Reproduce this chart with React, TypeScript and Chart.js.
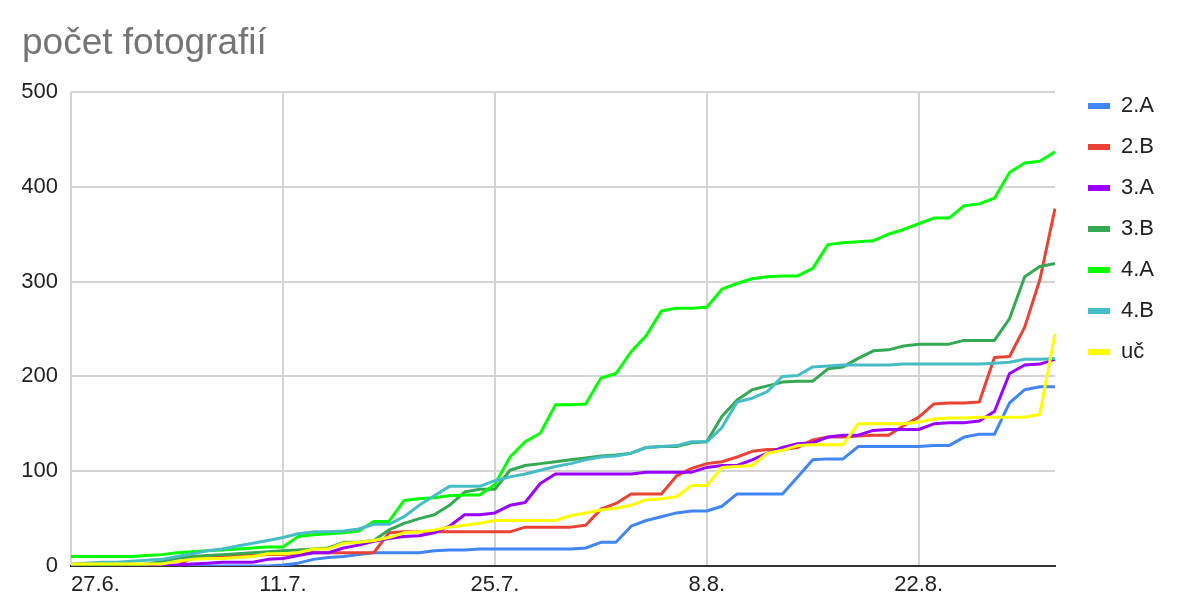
import React, { useEffect, useRef } from 'react';
import { Chart, registerables } from 'chart.js';

Chart.register(...registerables);

const categories = [
  '27.6.', '28.6.', '29.6.', '30.6.',
  '1.7.', '2.7.', '3.7.', '4.7.', '5.7.', '6.7.', '7.7.', '8.7.', '9.7.', '10.7.',
  '11.7.', '12.7.', '13.7.', '14.7.', '15.7.', '16.7.', '17.7.', '18.7.', '19.7.', '20.7.',
  '21.7.', '22.7.', '23.7.', '24.7.', '25.7.', '26.7.', '27.7.', '28.7.', '29.7.', '30.7.', '31.7.',
  '1.8.', '2.8.', '3.8.', '4.8.', '5.8.', '6.8.', '7.8.', '8.8.', '9.8.', '10.8.',
  '11.8.', '12.8.', '13.8.', '14.8.', '15.8.', '16.8.', '17.8.', '18.8.', '19.8.', '20.8.',
  '21.8.', '22.8.', '23.8.', '24.8.', '25.8.', '26.8.', '27.8.', '28.8.', '29.8.', '30.8.', '31.8.',
];

const tickLabels = ['27.6.', '11.7.', '25.7.', '8.8.', '22.8.'];

const series2A = [
  0, 0, 0, 0, 0, 0, 0, 0, 0, 0, 0, 0, 0, 0,
  1, 3, 7, 9, 10, 12, 14, 14, 14, 14, 16, 17, 17, 18, 18, 18, 18, 18, 18, 18,
  19, 25, 25, 42, 48, 52, 56, 58, 58, 63, 76, 76, 76, 76, 94, 112, 113, 113,
  126, 126, 126, 126, 126, 127, 127, 136, 139, 139, 172, 186, 189, 189,
];
const series2B = [
  0, 0, 0, 0, 0, 0, 0, 0,
  9, 10, 11, 11, 11, 12, 12, 13, 14, 14, 14, 14, 14, 35, 36, 36, 36, 36, 36, 36,
  36, 36, 41, 41, 41, 41, 43, 60, 66, 76, 76, 76, 95, 103, 108, 110, 115, 121,
  123, 123, 125, 133, 136, 136, 137, 138, 138, 148, 157, 171, 172, 172, 173,
  220, 221, 252, 302, 377,
];
const series3A = [
  0, 0, 0, 0, 0, 0, 0,
  1, 2, 3, 4, 4, 4, 7, 8, 11, 14, 14, 19, 22, 26, 29, 31, 32, 35, 42, 54, 54,
  56, 64, 67, 87, 97, 97, 97, 97, 97, 97, 99, 99, 99, 99, 104, 106, 106, 112,
  119, 125, 129, 130, 136, 138, 138, 143, 144, 144, 144, 150, 151, 151, 153,
  163, 203, 212, 213, 218,
];
const series3B = [
  0, 0, 0, 0, 0,
  2, 5, 8, 10, 11, 12, 13, 14, 15, 16, 17, 18, 19, 25, 25, 27, 38, 45, 50, 54,
  64, 78, 81, 81, 101, 106, 108, 110, 112, 114, 116, 117, 119, 125, 126, 126,
  130, 131, 158, 175, 186, 190, 194, 195, 195, 208, 210, 219, 227, 228, 232,
  234, 234, 234, 238, 238, 238, 261, 305, 316, 319,
];
const series4A = [
  10, 10, 10, 10, 10, 11, 12, 14, 15, 16, 17, 18, 19, 20, 20, 31, 33, 34, 35,
  37, 47, 47, 69, 71, 72, 74, 75, 75, 86, 115, 131, 140, 170, 170, 171, 198,
  203, 226, 243, 269, 272, 272, 273, 292, 298, 303, 305, 306, 306, 314, 339,
  341, 342, 343, 350, 355, 361, 367, 367, 380, 382, 388, 415, 425, 427, 437,
];
const series4B = [
  2, 3, 4, 4, 5, 6, 7, 10, 13, 16, 18, 21, 24, 27, 30, 34, 36, 36, 37, 39, 44,
  44, 52, 64, 74, 84, 84, 84, 90, 94, 97, 101, 105, 108, 112, 115, 116, 119,
  125, 126, 127, 131, 131, 146, 173, 177, 184, 200, 201, 210, 211, 212, 212,
  212, 212, 213, 213, 213, 213, 213, 213, 214, 215, 218, 218, 219,
];
const seriesUc = [
  2, 2, 2, 2, 2, 2, 2,
  5, 7, 8, 8, 9, 10, 13, 13, 14, 18, 18, 24, 25, 27, 30, 35, 36, 38, 41, 43,
  45, 48, 48, 48, 48, 48, 53, 56, 59, 61, 64, 70, 71, 73, 85, 85, 104, 105,
  106, 119, 122, 127, 128, 128, 128, 150, 150, 150, 150, 152, 155, 156, 156,
  157, 157, 157, 157, 160, 245,
];

const seriesNames = ['2.A', '2.B', '3.A', '3.B', '4.A', '4.B', 'uč'];
const seriesColors = ['#4285f4', '#ea4335', '#9900ff', '#34a853', '#00ff00', '#46bdc6', '#ffff00'];
const seriesValues = [series2A, series2B, series3A, series3B, series4A, series4B, seriesUc];

const titleText = 'počet fotografií';
const yMin = 0;
const yMax = 500;
const yStep = 100;

const FONT = "'Liberation Sans', Arial, sans-serif";

export default function App() {
  const ref = useRef<HTMLCanvasElement>(null);

  useEffect(() => {
    document.body.style.margin = '0';
    const canvas = ref.current;
    if (!canvas) return;

    const datasets = seriesValues.map((vals, i) => ({
      label: seriesNames[i],
      data: vals,
      borderColor: seriesColors[i],
      backgroundColor: seriesColors[i],
      borderWidth: 3,
      pointRadius: 0,
      pointHoverRadius: 0,
      tension: 0,
      fill: false,
      borderJoinStyle: 'round' as const,
      order: seriesNames.length - i,
      yAxisID: 'y',
    }));

    const chart = new Chart(canvas, {
      type: 'line',
      data: { labels: categories, datasets },
      options: {
        responsive: false,
        animation: false,
        devicePixelRatio: 1,
        layout: { padding: { left: 22, right: 16, top: 0, bottom: 0 } },
        font: { family: FONT },
        plugins: {
          tooltip: { enabled: false },
          title: {
            display: true,
            text: titleText,
            align: 'start',
            color: '#757575',
            font: { family: FONT, size: 37, weight: 'normal' },
            padding: { top: 22, bottom: 25.6 },
          },
          legend: {
            display: true,
            position: 'right',
            align: 'start',
            title: {
              display: true,
              text: ' ',
              font: { family: FONT, size: 12 },
              padding: { top: 0, bottom: 61.6 },
            },
            labels: {
              boxWidth: 22,
              boxHeight: 6,
              padding: 19,
              color: '#222222',
              font: { family: FONT, size: 22 },
              sort: (a: any, b: any) => a.datasetIndex - b.datasetIndex,
              generateLabels: (c: any) =>
                Chart.defaults.plugins.legend.labels
                  .generateLabels(c)
                  .map((l: any) => ({ ...l, lineWidth: 0, fillStyle: l.strokeStyle })),
            },
          },
        },
        scales: {
          x: {
            type: 'category',
            offset: false,
            grid: {
              drawTicks: false,
              lineWidth: 2,
              color: (ctx: any) => (ctx.index % 14 === 0 && ctx.index < categories.length - 1 ? '#d4d4d4' : 'rgba(0,0,0,0)'),
            },
            border: { display: true, color: '#333333', width: 2 },
            ticks: {
              autoSkip: false,
              maxRotation: 0,
              minRotation: 0,
              align: 'inner',
              padding: 6,
              color: '#222222',
              font: { family: FONT, size: 22 },
              callback: function (this: any, value: any) {
                const lab = this.getLabelForValue(value);
                return tickLabels.includes(lab) ? lab : '';
              },
            },
            afterFit: (s: any) => {
              s.height = 35;
            },
          },
          y: {
            type: 'linear',
            position: 'left',
            min: yMin,
            max: yMax,
            grid: {
              drawTicks: false,
              lineWidth: 2,
              color: (ctx: any) => (ctx.tick && ctx.tick.value === 0 ? 'rgba(0,0,0,0)' : '#d4d4d4'),
            },
            border: { display: false },
            ticks: {
              stepSize: yStep,
              padding: 13,
              color: '#222222',
              font: { family: FONT, size: 22 },
            },
            afterFit: (s: any) => {
              s.width = 49;
            },
          },
          yRight: {
            type: 'linear',
            position: 'right',
            display: true,
            grid: { display: false, drawTicks: false },
            border: { display: false },
            ticks: { display: false },
            afterFit: (s: any) => {
              s.width = 14;
            },
          },
        },
      },
    } as any);

    return () => chart.destroy();
  }, []);

  return (
    <div style={{ width: 1180, height: 601 }}>
      <canvas ref={ref} width={1180} height={601} style={{ display: 'block', width: 1180, height: 601 }} />
    </div>
  );
}
